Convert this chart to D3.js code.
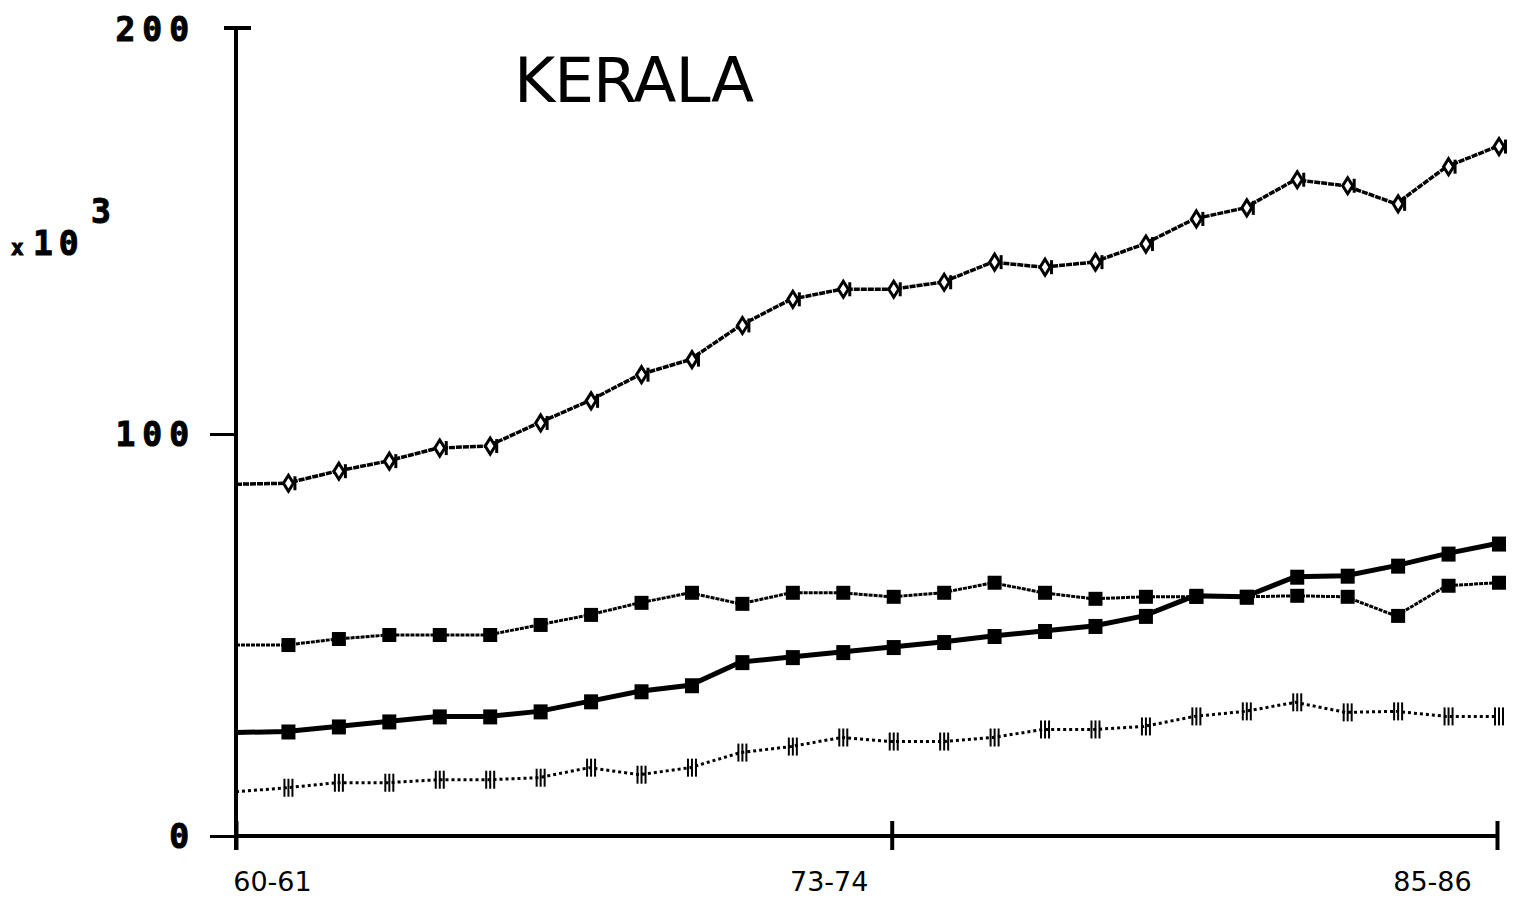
<!DOCTYPE html>
<html>
<head>
<meta charset="utf-8">
<script src="https://cdn.jsdelivr.net/npm/d3@7"></script>
<style>
  html, body { margin: 0; padding: 0; background: #fff; }
  svg { display: block; }
</style>
</head>
<body>
<script>
// Crop years, 1960-61 to 1985-86
const years = ["60-61","61-62","62-63","63-64","64-65","65-66","66-67","67-68","68-69","69-70",
  "70-71","71-72","72-73","73-74","74-75","75-76","76-77","77-78","78-79","79-80",
  "80-81","81-82","82-83","83-84","84-85","85-86"];
const xTickLabels = ["60-61", "73-74", "85-86"];
const yTickValues = [0, 100, 200];

// Series values, in thousands
const seriesTop = [87.5, 87.75, 90.75, 93.25, 96.5, 97, 102.75, 108.25, 114.75, 118.5,
  127, 133.5, 136, 136, 137.75, 142.75, 141.5, 142.75, 147.25, 153.5,
  156.25, 163.25, 161.75, 157.25, 166.5, 171.5];
const seriesUpper = [47.5, 47.5, 49, 50, 50, 50, 52.5, 55, 58, 60.5,
  57.75, 60.5, 60.5, 59.5, 60.5, 63, 60.5, 59, 59.5, 59.5,
  59.5, 59.75, 59.5, 54.75, 62.25, 63];
const seriesLower = [25.75, 26, 27.25, 28.5, 29.75, 29.75, 31, 33.5, 36, 37.5,
  43.25, 44.5, 45.75, 47, 48.25, 49.75, 51, 52.25, 54.75, 59.75,
  59.5, 64.5, 64.75, 67.25, 70.25, 72.75];
const seriesBottom = [11, 12, 13.25, 13.25, 14, 14, 14.5, 17, 15.25, 17,
  20.75, 22.25, 24.5, 23.5, 23.5, 24.5, 26.5, 26.5, 27.25, 29.75,
  31, 33.25, 30.75, 31, 29.75, 29.75];

const W = 1531, H = 900;
const svg = d3.select("body").append("svg").attr("width", W).attr("height", H);

const x = d3.scalePoint().domain(years).range([236, 1497]);
const y = d3.scaleLinear().domain([0, 200]).range([836, 32]);

const ink = "#000";

// Title
svg.append("text")
  .attr("x", 514).attr("y", 102)
  .attr("font-family", "DejaVu Sans")
  .attr("font-size", 63)
  .attr("fill", ink)
  .attr("letter-spacing", -1)
  .text("KERALA");

const tickFont = "DejaVu Sans Mono";

// y axis line
svg.append("line")
  .attr("x1", 236).attr("x2", 236)
  .attr("y1", y(200) - 4).attr("y2", y(0) + 14)
  .attr("stroke", ink).attr("stroke-width", 4);
// top cap
svg.append("line")
  .attr("x1", 224).attr("x2", 251)
  .attr("y1", y(200) - 4).attr("y2", y(200) - 4)
  .attr("stroke", ink).attr("stroke-width", 4);

const yAxis = d3.axisLeft(y).tickValues(yTickValues).tickSize(26).tickFormat(d3.format("d"));
const gy = svg.append("g").attr("transform", "translate(236,0)").call(yAxis);
gy.select(".domain").remove();
gy.selectAll(".tick line").attr("stroke", ink).attr("stroke-width", 3)
  .attr("x2", d => d === 200 ? 0 : -26).attr("opacity", d => d === 200 ? 0 : 1);
gy.selectAll(".tick text")
  .attr("x", -40)
  .attr("dy", "0.36em")
  .attr("font-family", tickFont)
  .attr("font-weight", "bold")
  .attr("font-size", 33)
  .attr("letter-spacing", 7)
  .attr("stroke", ink).attr("stroke-width", 1)
  .attr("fill", ink);
gy.selectAll(".tick").filter(d => d === 200).select("text").attr("transform", "translate(0,-3)");

// multiplier label
const mult = svg.append("text").attr("y", 255).attr("fill", ink)
  .attr("font-family", tickFont).attr("font-weight", "bold")
  .attr("stroke", ink).attr("stroke-width", 1);
mult.append("tspan").attr("x", 11).attr("font-size", 21).text("x");
mult.append("tspan").attr("x", 33).attr("font-size", 33).attr("letter-spacing", 6).text("10");
mult.append("tspan").attr("x", 91).attr("y", 223).attr("font-size", 33).text("3");

// x axis
svg.append("line")
  .attr("x1", 236).attr("x2", 1497)
  .attr("y1", y(0)).attr("y2", y(0))
  .attr("stroke", ink).attr("stroke-width", 4);
const xAxis = d3.axisBottom(x).tickValues(xTickLabels).tickSize(0).tickFormat(d => d);
const gx = svg.append("g").attr("transform", `translate(0,${y(0)})`).call(xAxis);
gx.select(".domain").remove();
gx.selectAll(".tick line")
  .attr("y1", -15).attr("y2", 14)
  .attr("stroke", ink).attr("stroke-width", 4);
const labelShift = { "60-61": 36, "73-74": -63, "85-86": -65 };
gx.selectAll(".tick text")
  .attr("x", d => labelShift[d])
  .attr("y", 55)
  .attr("dy", 0)
  .attr("font-family", "DejaVu Sans")
  .attr("font-size", 27)
  .attr("font-weight", "normal")
  .attr("fill", ink);

// Series lines
const line = d3.line().x((d, i) => x(years[i])).y(d => y(d));

svg.append("path").datum(seriesTop)
  .attr("d", line).attr("fill", "none")
  .attr("stroke", ink).attr("stroke-width", 3.5).attr("stroke-dasharray", "6,1");
svg.append("path").datum(seriesUpper)
  .attr("d", line).attr("fill", "none")
  .attr("stroke", ink).attr("stroke-width", 3).attr("stroke-dasharray", "4,1");
svg.append("path").datum(seriesLower)
  .attr("d", line).attr("fill", "none")
  .attr("stroke", ink).attr("stroke-width", 5);
svg.append("path").datum(seriesBottom)
  .attr("d", line).attr("fill", "none")
  .attr("stroke", ink).attr("stroke-width", 3).attr("stroke-dasharray", "3,3");

// Markers (every year after the first)
const withIdx = arr => arr.map((v, i) => ({ v, i })).filter(d => d.i > 0);

// hollow diamond marks on the top series
svg.append("g").selectAll("path")
  .data(withIdx(seriesTop)).join("path")
  .attr("transform", d => `translate(${x(years[d.i]) + 2},${y(d.v)})`)
  .attr("d", "M0,-8 L5,0 L0,8 L-5,0 Z")
  .attr("fill", "#fff").attr("stroke", ink).attr("stroke-width", 3);
svg.append("g").selectAll("rect")
  .data(withIdx(seriesTop)).join("rect")
  .attr("x", d => x(years[d.i]) + 7).attr("y", d => y(d.v) - 7)
  .attr("width", 3).attr("height", 14).attr("fill", ink);

// filled squares on the two middle series
svg.append("g").selectAll("rect")
  .data(withIdx(seriesUpper)).join("rect")
  .attr("x", d => x(years[d.i]) - 5).attr("y", d => y(d.v) - 7)
  .attr("width", 14).attr("height", 14).attr("fill", ink);
svg.append("g").selectAll("rect")
  .data(withIdx(seriesLower)).join("rect")
  .attr("x", d => x(years[d.i]) - 5).attr("y", d => y(d.v) - 7)
  .attr("width", 14).attr("height", 15).attr("fill", ink);

// triple-bar marks on the bottom series
const bars = svg.append("g").selectAll("g")
  .data(withIdx(seriesBottom)).join("g")
  .attr("transform", d => `translate(${x(years[d.i])},${y(d.v)})`);
[-3, 1, 5].forEach(dx => {
  bars.append("rect").attr("x", dx).attr("y", -9).attr("width", 2).attr("height", 18).attr("fill", ink);
});
</script>
</body>
</html>
